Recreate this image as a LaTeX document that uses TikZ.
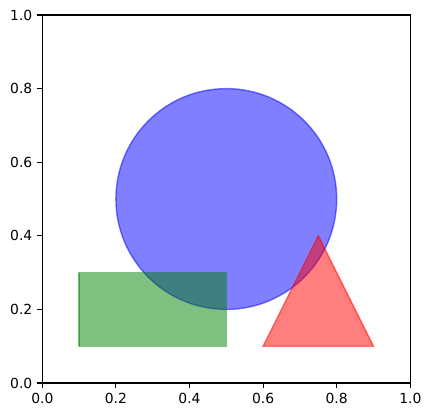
\documentclass[tikz,border=0pt]{standalone}
\usepackage{fontspec}
\setmainfont{DejaVu Sans}
\begin{document}
\begin{tikzpicture}[x=0.72pt,y=0.72pt,
  ticklbl/.style={inner sep=0pt,font=\fontsize{10}{12}\selectfont},
  axisline/.style={line width=0.8pt,line cap=rect},
  tickmark/.style={line width=0.8pt},
  patchblue/.style={draw=blue,fill=blue,draw opacity=0.5,fill opacity=0.5,line width=1pt},
  patchgreen/.style={draw={rgb,255:red,0;green,128;blue,0},fill={rgb,255:red,0;green,128;blue,0},draw opacity=0.5,fill opacity=0.5,line width=1pt},
  patchred/.style={draw=red,fill=red,draw opacity=0.5,fill opacity=0.5,line width=1pt,line join=miter}]
\useasboundingbox (0,0) rectangle (432,418);
\fill[white] (0,0) rectangle (432,418);
\begin{scope}[shift={(42.3,35)},x=264.96pt,y=264.96pt]
  % patches
  \fill[patchblue] (0.5,0.5) circle[radius=0.3];
  \path[patchgreen] (0.1,0.1) rectangle (0.5,0.3);
  \path[patchred] (0.6,0.1) -- (0.9,0.1) -- (0.75,0.4) -- cycle;
  % axes frame
  \coordinate (o) at (0,0);
  \coordinate (xe) at (1,0);
  \coordinate (ye) at (0,1);
  \coordinate (tr) at (1,1);
  \draw[axisline] (o) -- (xe) -- (tr) -- (ye) -- cycle;
  % ticks
  \foreach \v/\t [count=\i] in {0/0.0,0.2/0.2,0.4/0.4,0.6/0.6,0.8/0.8,1/1.0}{
    \coordinate (xt\i) at (\v,0);
    \coordinate (yt\i) at (0,\v);
    \draw[tickmark] (xt\i) -- ++(0,-3.5pt);
    \draw[tickmark] (yt\i) -- ++(-3.5pt,0);
    \node[ticklbl,anchor=north] (xl\i) at ([yshift=-7pt]xt\i) {\t};
    \node[ticklbl,anchor=east] (yl\i) at ([xshift=-7pt]yt\i) {\t};
  }
\end{scope}
\end{tikzpicture}
\end{document}
